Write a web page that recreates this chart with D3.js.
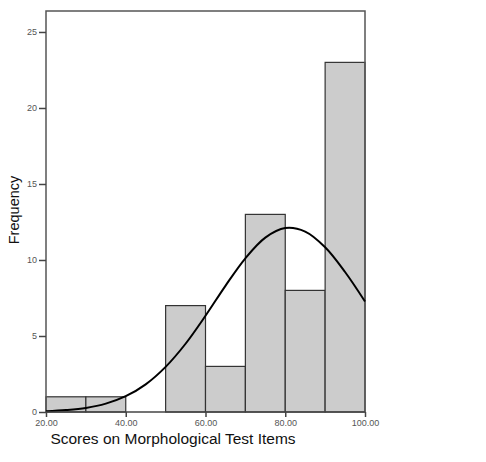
<!DOCTYPE html>
<html><head><meta charset="utf-8">
<script src="https://cdnjs.cloudflare.com/ajax/libs/d3/7.8.5/d3.min.js"></script>
<style>body{margin:0;background:#fff}svg{display:block}</style>
</head><body>
<svg id="c" width="486" height="462"></svg>
<script>
const binStarts = [20, 30, 40, 50, 60, 70, 80, 90];
const binEnds   = [30, 40, 50, 60, 70, 80, 90, 100];
const counts    = [1, 1, 0, 7, 3, 13, 8, 23];
const curveX = [20, 25, 30, 35, 40, 45, 50, 55, 60, 65, 70, 75, 80, 85, 90, 95, 100];
const curveY = [0.05, 0.13, 0.27, 0.55, 1.04, 1.82, 2.97, 4.49, 6.33, 8.30, 10.11, 11.47, 12.10, 11.87, 10.84, 9.21, 7.27];
const xTicks = [20, 40, 60, 80, 100];
const yTicks = [0, 5, 10, 15, 20, 25];

const svg = d3.select("#c");
const L = 46, R = 365, T = 11, B = 412;
const x = d3.scaleLinear().domain([20, 100]).range([L, R]);
const y = d3.scaleLinear().domain([0, 26.38]).range([B, T]);

// bars
svg.append("g").selectAll("rect").data(counts.map((c, i) => ({c, s: binStarts[i], e: binEnds[i]})).filter(d => d.c > 0))
  .join("rect")
  .attr("x", d => x(d.s)).attr("width", d => x(d.e) - x(d.s))
  .attr("y", d => y(d.c)).attr("height", d => y(0) - y(d.c))
  .attr("fill", "#cccccc").attr("stroke", "#333").attr("stroke-width", 1.2);

// frame (left, top, right)
svg.append("path")
  .attr("d", `M${L},${B}V${T}H${R}V${B}`)
  .attr("fill", "none").attr("stroke", "#555").attr("stroke-width", 1.5);

// curve
const line = d3.line().x((d, i) => x(curveX[i])).y(d => y(d)).curve(d3.curveCatmullRom);
svg.append("path").datum(curveY).attr("d", line)
  .attr("fill", "none").attr("stroke", "#000").attr("stroke-width", 2);

// axes
const yAxis = d3.axisLeft(y).tickValues(yTicks).tickSize(7).tickPadding(2).tickFormat(d3.format("d"));
const gy = svg.append("g").attr("transform", `translate(${L},0)`).call(yAxis);
gy.select(".domain").remove();
gy.selectAll("line").attr("stroke", "#444").attr("stroke-width", 1.5);
gy.selectAll("text").attr("fill", "#555").style("font", "9px 'Liberation Sans', Arial, sans-serif");

const xAxis = d3.axisBottom(x).tickValues(xTicks).tickSize(5).tickPadding(3).tickFormat(d3.format(".2f"));
const gx = svg.append("g").attr("transform", `translate(0,${B})`).call(xAxis);
gx.select(".domain").attr("stroke", "#444").attr("stroke-width", 1.5).attr("d", `M${L},0H${R}`);
gx.selectAll("line").attr("stroke", "#444").attr("stroke-width", 1.5);
gx.selectAll("text").attr("fill", "#555").style("font", "9px 'Liberation Sans', Arial, sans-serif");

svg.append("text").attr("x", 173).attr("y", 444).attr("text-anchor", "middle")
  .style("font", "15.5px 'Liberation Sans', Arial, sans-serif").attr("fill", "#111")
  .text("Scores on Morphological Test Items");
svg.append("text").attr("transform", "translate(19,210) rotate(-90)").attr("text-anchor", "middle")
  .style("font", "14.5px 'Liberation Sans', Arial, sans-serif").attr("fill", "#111")
  .text("Frequency");
</script>
</body></html>
